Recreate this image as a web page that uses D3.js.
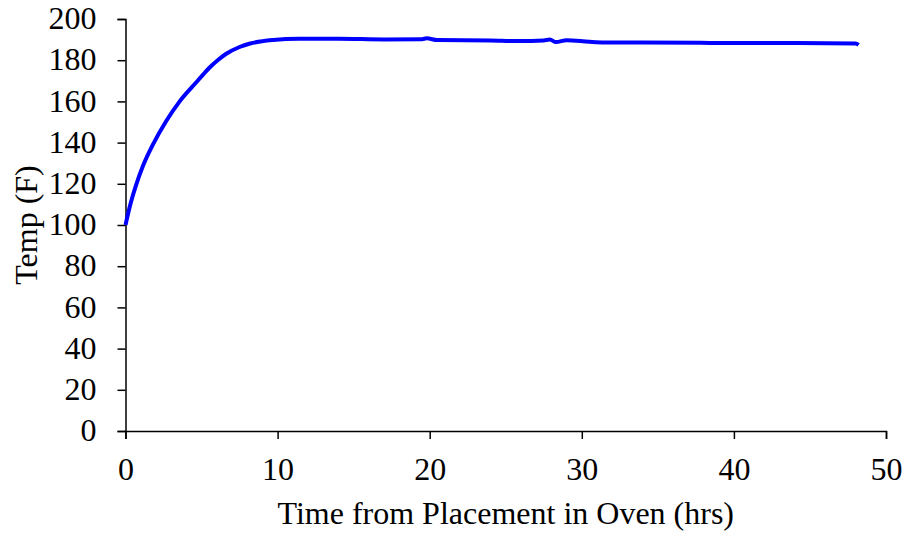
<!DOCTYPE html>
<html>
<head>
<meta charset="utf-8">
<script src="https://cdn.jsdelivr.net/npm/d3@7"></script>
<style>
  body { margin: 0; background: #fff; }
  text { font-family: "Liberation Serif", "Times New Roman", serif; fill: #000; }
</style>
</head>
<body>
<div id="chart"></div>
<script>
// data (hours, deg F)
const hours = [0, 0.3, 0.7, 1.14, 1.8, 2.68, 3.55, 4.67, 5.1, 5.5, 6.1, 6.6, 7.5, 8.2, 9.7, 11.4,
  14, 17, 19.5, 19.8, 20.5, 24, 25.8, 27.5, 27.9, 28.3, 29, 30.5, 31.5, 34, 37.8, 40, 44, 48, 48.2];
const temps = [100, 109.5, 119.5, 128.5, 139, 150.5, 159.9, 169.4, 173, 176.2, 180.2, 183, 186.4, 188.1, 189.8, 190.4,
  190.4, 190.1, 190.2, 190.6, 189.8, 189.6, 189.3, 189.6, 190.0, 188.8, 189.7, 188.9, 188.6, 188.6, 188.5, 188.3, 188.3, 188.1, 187.4];
const xTicks = [0, 10, 20, 30, 40, 50];
const yTicks = [0, 20, 40, 60, 80, 100, 120, 140, 160, 180, 200];

const width = 906, height = 533;
const margin = { top: 19, right: 20, bottom: 102, left: 125.5 };
const fontSize = "32px";

const svg = d3.select("#chart").append("svg")
  .attr("width", width)
  .attr("height", height);

const x = d3.scaleLinear().domain([0, 50]).range([margin.left, 886]);
const y = d3.scaleLinear().domain([0, 200]).range([431, margin.top]);

const data = hours.map((h, i) => ({ h: h, t: temps[i] }));

// axes
const xAxis = d3.axisBottom(x).tickValues(xTicks).tickSize(8).tickPadding(8);
const yAxis = d3.axisLeft(y).tickValues(yTicks).tickSize(8).tickPadding(21);

const gx = svg.append("g")
  .attr("transform", `translate(0,${y(0)})`)
  .call(xAxis);
const gy = svg.append("g")
  .attr("transform", `translate(${x(0)},0)`)
  .call(yAxis);

[gx, gy].forEach(g => {
  g.select(".domain").attr("stroke", "#000").attr("stroke-width", 1.5);
  g.selectAll(".tick line").attr("stroke", "#000").attr("stroke-width", 1.5);
  g.selectAll(".tick text").style("font-size", fontSize).attr("fill", "#000");
});
gy.selectAll(".tick text").attr("dy", "0.3em");
gx.selectAll(".tick text").attr("y", 49).attr("dy", null);

// line
const line = d3.line().x(d => x(d.h)).y(d => y(d.t)).curve(d3.curveMonotoneX);
svg.append("path")
  .datum(data)
  .attr("fill", "none")
  .attr("stroke", "#0000ff")
  .attr("stroke-width", 4)
  .attr("stroke-linejoin", "round")
  .attr("d", line);

// axis titles
svg.append("text")
  .attr("x", (x(0) + x(50)) / 2)
  .attr("y", 524)
  .attr("text-anchor", "middle")
  .style("font-size", fontSize)
  .text("Time from Placement in Oven (hrs)");

svg.append("text")
  .attr("transform", `translate(37,${(y(0) + y(200)) / 2}) rotate(-90)`)
  .attr("text-anchor", "middle")
  .style("font-size", fontSize)
  .text("Temp (F)");
</script>
</body>
</html>
